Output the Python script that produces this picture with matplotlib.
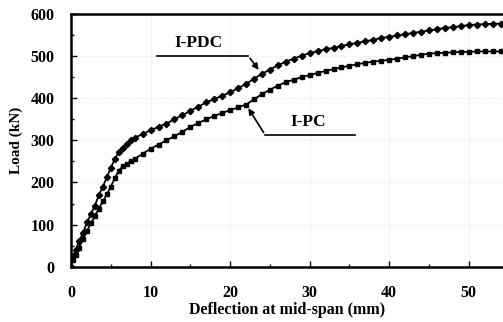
import matplotlib.pyplot as plt
from matplotlib.ticker import MultipleLocator

# deflection (mm) / load (kN)
pdc_x = [0, 0.3, 0.6, 1, 1.5, 2, 2.5, 3, 3.5, 4, 4.5, 5, 5.5, 6, 6.5, 7, 7.5, 8, 9, 10,
         11, 12, 13, 14, 15, 16, 17, 18, 19, 20, 21, 22, 23, 24, 25, 26, 27, 28, 29, 30,
         31, 32, 33, 34, 35, 36, 37, 38, 39, 40, 41, 42, 43, 44, 45, 46, 47, 48, 49, 50,
         51, 52, 53, 54, 55]
pdc_y = [0, 25, 40, 60, 80, 105, 125, 145, 170, 190, 212, 235, 255, 272, 283, 292, 300, 306, 315, 324,
         332, 340, 350, 360, 370, 380, 390, 398, 406, 414, 424, 434, 446, 458, 468, 478, 487, 494, 501, 507,
         512, 516, 520, 524, 528, 532, 535, 539, 543, 546, 549, 552, 555, 558, 561, 564, 567, 569, 571, 574,
         575, 576, 577, 577, 578]
pc_x = pdc_x
pc_y = [0, 15, 28, 45, 65, 85, 103, 120, 138, 155, 172, 190, 210, 228, 238, 245, 250, 256, 268, 280,
        290, 300, 310, 320, 332, 341, 350, 358, 365, 372, 378, 385, 397, 410, 420, 430, 438, 444, 450, 455,
        460, 465, 469, 473, 477, 481, 484, 487, 489, 491, 494, 497, 500, 503, 506, 507, 508, 509, 510, 510,
        511, 511, 511, 511, 511]

serif = {'family': 'Liberation Serif', 'weight': 'bold'}

fig = plt.figure(figsize=(5.03, 3.22), dpi=100)
ax = fig.add_axes([71 / 503, 1 - 266.7 / 322, 1 - 71 / 503, (266.7 - 14) / 322])

ax.plot(pdc_x, pdc_y, color='black', lw=1.3, marker='D', ms=3.2)
ax.plot(pc_x, pc_y, color='black', lw=1.3, marker='s', ms=3.2)

# callouts
ax.text(16.0, 531, 'I-PDC', fontdict=serif, fontsize=12.5, ha='center', va='center')
ax.plot([10.8, 22.3], [500, 500], color='black', lw=1.2)
ax.annotate('', xy=(23.8, 462), xytext=(22.3, 500),
            arrowprops=dict(arrowstyle='-|>', color='black', lw=1.2, mutation_scale=9))
ax.text(29.8, 344, 'I-PC', fontdict=serif, fontsize=12.5, ha='center', va='center')
ax.plot([24.4, 35.7], [313, 313], color='black', lw=1.2)
ax.annotate('', xy=(22.1, 382), xytext=(24.4, 313),
            arrowprops=dict(arrowstyle='-|>', color='black', lw=1.2, mutation_scale=9))

ax.set_xlim(0, 54.3)
ax.set_ylim(0, 600)
ax.xaxis.set_major_locator(MultipleLocator(10))
ax.xaxis.set_minor_locator(MultipleLocator(5))
ax.yaxis.set_major_locator(MultipleLocator(100))
ax.yaxis.set_minor_locator(MultipleLocator(50))
ax.tick_params(which='both', direction='in', width=1.0)
ax.tick_params(which='major', length=4)
ax.tick_params(which='minor', length=2.5)
ax.tick_params(axis='x', pad=13)
ax.tick_params(axis='y', pad=12)
for lab in ax.get_xticklabels() + ax.get_yticklabels():
    lab.set_fontfamily('Liberation Serif')
    lab.set_fontweight('bold')
    lab.set_fontsize(11.5)

ax.grid(True, which='major', ls=':', lw=0.4, color='0.8')
ax.spines['right'].set_visible(False)
for s in ('left', 'bottom', 'top'):
    ax.spines[s].set_linewidth(1.8)

ax.set_xlabel('Deflection at mid-span (mm)', fontdict=serif, fontsize=11.5, labelpad=1)
ax.set_ylabel('Load (kN)', fontdict=serif, fontsize=11, labelpad=5)

fig.savefig('out.png', dpi=100)
